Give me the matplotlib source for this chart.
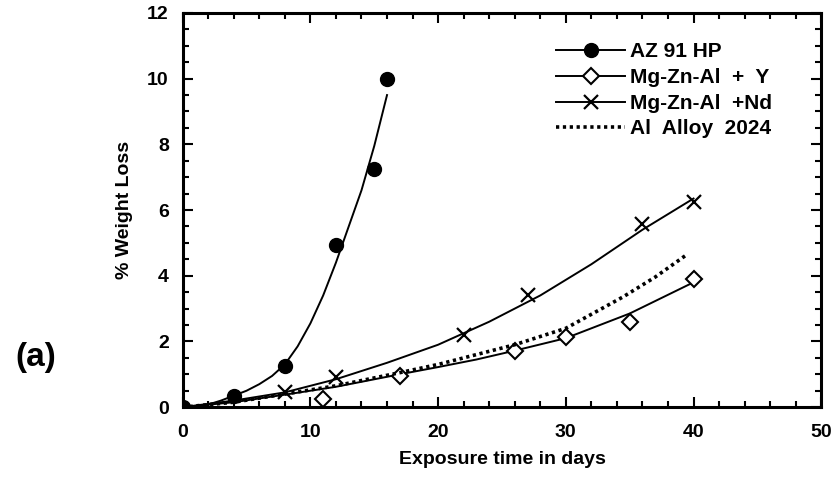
import matplotlib
matplotlib.use('Agg')
import matplotlib.pyplot as plt
from matplotlib.ticker import MultipleLocator

plt.rcParams['font.family'] = ['Liberation Sans', 'DejaVu Sans']
plt.rcParams['font.weight'] = 'bold'

# measured points
az_days = [0, 4, 8, 12, 15, 16]
az_loss = [0, 0.35, 1.25, 4.95, 7.25, 10.0]
y_days = [11, 17, 26, 30, 35, 40]
y_loss = [0.25, 0.95, 1.7, 2.15, 2.6, 3.9]
nd_days = [8, 12, 22, 27, 36, 40]
nd_loss = [0.46, 0.92, 2.2, 3.42, 5.56, 6.25]

# fitted curves
az_fit_days = [0, 1, 2, 3, 4, 5, 6, 7, 8, 9, 10, 11, 12, 13, 14, 15, 16]
az_fit_loss = [0, 0.02, 0.08, 0.2, 0.35, 0.5, 0.7, 0.95, 1.3, 1.85, 2.55, 3.4,
               4.4, 5.5, 6.6, 7.95, 9.5]
y_fit_days = [0, 4, 8, 12, 17, 20, 23, 26, 30, 35, 40]
y_fit_loss = [0, 0.15, 0.38, 0.62, 1.0, 1.22, 1.45, 1.72, 2.1, 2.85, 3.8]
nd_fit_days = [0, 4, 8, 12, 16, 20, 24, 28, 32, 36, 40]
nd_fit_loss = [0, 0.2, 0.45, 0.85, 1.35, 1.9, 2.6, 3.4, 4.35, 5.4, 6.35]
al_fit_days = [0, 4, 8, 12, 17, 20, 23, 26, 30, 34.5, 37, 39.5]
al_fit_loss = [0, 0.15, 0.4, 0.65, 1.05, 1.3, 1.6, 1.9, 2.4, 3.36, 3.96, 4.65]

fig = plt.figure(figsize=(8.38, 4.79), dpi=100)
ax = fig.add_axes([0.218, 0.150, 0.762, 0.823])

c_az, = ax.plot(az_fit_days, az_fit_loss, color='black', lw=1.4)
m_az, = ax.plot(az_days, az_loss, 'o', color='black', ms=10, ls='none')
c_y, = ax.plot(y_fit_days, y_fit_loss, color='black', lw=1.4)
m_y, = ax.plot(y_days, y_loss, 'D', mfc='white', mec='black', mew=1.5, ms=8, ls='none')
c_nd, = ax.plot(nd_fit_days, nd_fit_loss, color='black', lw=1.4)
m_nd, = ax.plot(nd_days, nd_loss, 'x', color='black', mew=1.6, ms=10, ls='none')
c_al, = ax.plot(al_fit_days, al_fit_loss, color='black', lw=2.6, ls=(0, (0.9, 1.0)))

ax.legend([(c_az, m_az), (c_y, m_y), (c_nd, m_nd), c_al],
          ['AZ 91 HP', 'Mg-Zn-Al  +  Y', 'Mg-Zn-Al  +Nd', 'Al  Alloy  2024'],
          loc='upper left', bbox_to_anchor=(0.585, 0.925), frameon=False,
          borderpad=0, borderaxespad=0, handlelength=3.3, handletextpad=0.25,
          labelspacing=0.32, fontsize=15)

ax.set_xlim(0, 50)
ax.set_ylim(0, 12)
ax.xaxis.set_major_locator(MultipleLocator(10))
ax.xaxis.set_minor_locator(MultipleLocator(2))
ax.yaxis.set_major_locator(MultipleLocator(2))
ax.yaxis.set_minor_locator(MultipleLocator(0.5))
ax.tick_params(which='both', direction='in', top=True, right=True, width=1.5)
ax.tick_params(which='major', length=7)
ax.tick_params(which='minor', length=4)
ax.tick_params(axis='x', which='major', pad=12, labelsize=14)
ax.tick_params(axis='y', which='major', pad=10, labelsize=14)
for s in ax.spines.values():
    s.set_linewidth(2.2)

ax.set_xlabel('Exposure time in days', fontsize=14, fontweight='bold', labelpad=7)
ax.set_ylabel('% Weight Loss', fontsize=14, fontweight='bold', labelpad=10)
fig.text(0.018, 0.235, '(a)', fontsize=24, fontweight='bold')

fig.savefig('out.png', dpi=100)
